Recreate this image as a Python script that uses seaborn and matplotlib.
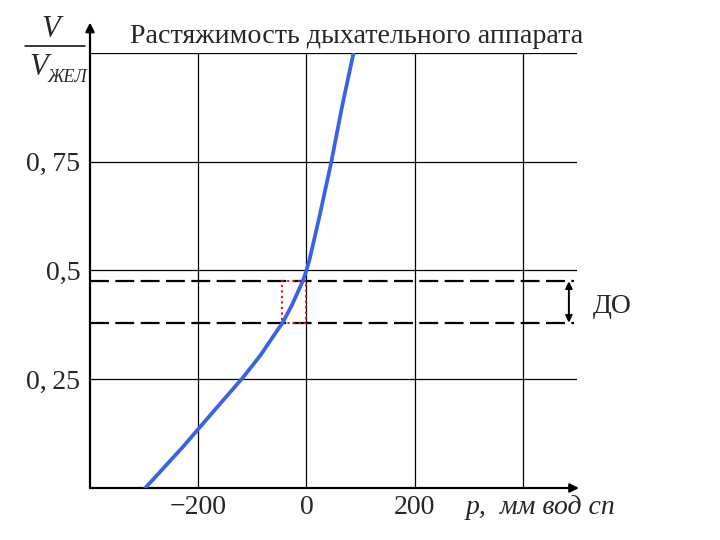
import numpy as np
import pandas as pd
import matplotlib
matplotlib.use('Agg')
import matplotlib.pyplot as plt
import seaborn as sns
from matplotlib.patches import Rectangle
from matplotlib.lines import Line2D

# curve: pressure (мм вод ст) vs V/Vжел
pressure = [-298, -275, -253, -228, -201, -160, -118, -85, -53, -44, -27, -7, 0, 6, 12, 24, 46, 66, 87]
volume = [0.0, 0.031, 0.061, 0.095, 0.134, 0.193, 0.253, 0.305, 0.364, 0.380, 0.420, 0.475, 0.500,
          0.527, 0.559, 0.624, 0.750, 0.878, 1.000]

x_ticks = [-200, 0, 200]
x_labels = ['\u2212200', '0', '200']
y_ticks = [0.25, 0.5, 0.75]
y_labels = ['0,\u200925', '0,5', '0,\u200975']
x_grid = [-200, 0, 200, 400]
y_grid = [0.25, 0.5, 0.75, 1.0]

# functional residual capacity band (ДО)
do_top = 0.475
do_bottom = 0.38
box_left = -46
arrow_x = 485

title = 'Растяжимость дыхательного аппарата'

df = pd.DataFrame({'p': pressure, 'v': volume})

sns.set_theme(style='white')
plt.rcParams['font.family'] = ['Liberation Serif', 'DejaVu Serif']

fig = plt.figure(figsize=(7.2, 5.4), dpi=100)
ax = fig.add_axes([0.125, 0.0963, 0.6764, 0.8056])

# grid
ax.vlines(x_grid, 0, 1.0, color='black', lw=0.9, zorder=1)
ax.hlines(y_grid, -400, 500, color='black', lw=0.9, zorder=1)

# dashed band lines
ax.hlines([do_top, do_bottom], -400, 495, color='black', lw=1.6,
          linestyles=[(0, (8.5, 2.9))], zorder=2)

# red dotted box
ax.add_patch(Rectangle((box_left, do_bottom), -box_left, do_top - do_bottom,
                       fill=False, ec='#e01010', ls=':', lw=1.5, zorder=3))

# the curve
sns.lineplot(data=df, x='p', y='v', ax=ax, color='#3a62e6', lw=2.7,
             sort=False, estimator=None, zorder=5)

ax.set_xlim(-400, 500)
ax.set_ylim(0, 1.0)
for s in ax.spines.values():
    s.set_visible(False)

ax.set_xticks(x_ticks, x_labels)
ax.set_yticks(y_ticks, y_labels)
ax.tick_params(axis='both', length=0, labelsize=20)
ax.tick_params(axis='x', pad=5)
ax.tick_params(axis='y', pad=7)
ax.set_xlabel('')
ax.set_ylabel('')

# axes with arrows
ax.annotate('', xy=(0, 1.07), xycoords='axes fraction', xytext=(0, 0),
            arrowprops=dict(arrowstyle='-|>', color='black', lw=1.6,
                            mutation_scale=13, shrinkA=0, shrinkB=0))
ax.annotate('', xy=(1.004, 0), xycoords='axes fraction', xytext=(0, 0),
            arrowprops=dict(arrowstyle='-|>', color='black', lw=1.6,
                            mutation_scale=13, shrinkA=0, shrinkB=0))

# double arrow for ДО
ax.annotate('', xy=(arrow_x, do_top), xytext=(arrow_x, do_bottom),
            arrowprops=dict(arrowstyle='<|-|>', color='black', lw=1.4,
                            mutation_scale=10, shrinkA=0, shrinkB=0))

fig.text(593 / 720, 1 - 313 / 540, 'ДО', fontsize=20, va='baseline')

# x axis label
fig.text(466 / 720, 1 - 507 / 540, 'p,  мм вод сп', fontsize=20, style='italic', va='center')

# y axis label as a fraction V / Vжел
fig.text(51 / 720, 1 - 37 / 540, 'V', fontsize=22, style='italic', ha='center', va='baseline')
fig.add_artist(Line2D([25 / 720, 85 / 720], [1 - 46 / 540] * 2, color='black', lw=1.1))
fig.text(39 / 720, 1 - 75 / 540, 'V', fontsize=22, style='italic', ha='center', va='baseline')
fig.text(47 / 720, 1 - 82 / 540, 'ЖЕЛ', fontsize=13, style='italic', ha='left', va='baseline')

fig.text(130 / 720, 1 - 43 / 540, title, fontsize=20.2, va='baseline')

plt.savefig('out.png', dpi=100)
